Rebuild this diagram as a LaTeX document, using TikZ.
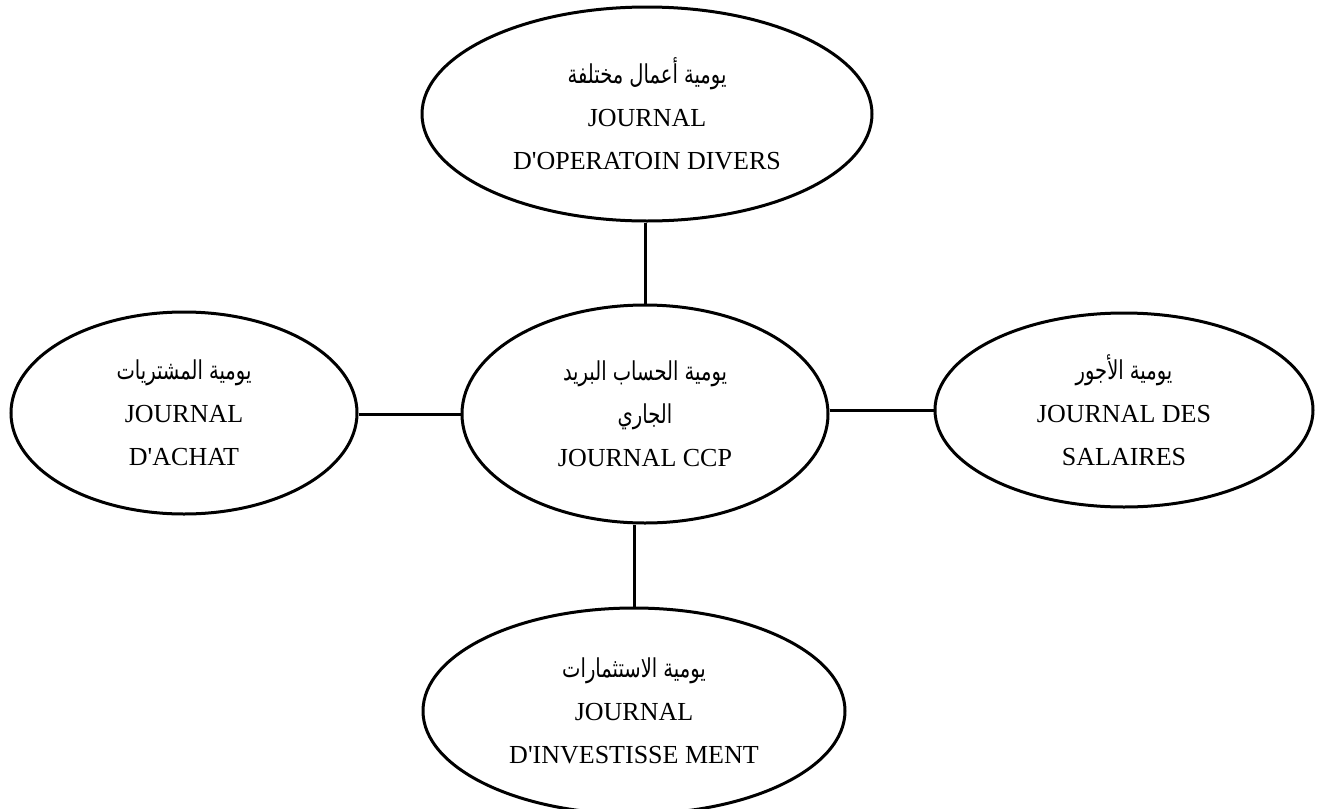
\documentclass[tikz,border=0pt]{standalone}
\usepackage{fontspec}
\setmainfont{Liberation Serif}[Ligatures=TeXOff]
\newfontfamily\arabicfont[Script=Arabic, FakeStretch=0.75]{DejaVu Sans}
\TeXXeTstate=1
\usetikzlibrary{shapes.geometric}
\newcommand{\ar}[1]{{\arabicfont\beginR #1\endR}}
\tikzset{
  jbox/.style={ellipse, draw, line width=1.5pt, inner sep=0pt, align=center,
    font=\fontsize{13}{21.5}\selectfont},
  link/.style={line width=1.5pt}
}
\begin{document}
\begin{tikzpicture}[x=0.5pt,y=-0.5pt]
\useasboundingbox (0,0) rectangle (1324,809);
\clip (0,0) rectangle (1324,809);
\node[jbox, minimum width=225pt, minimum height=107pt] (top) at (647,114)
  {\ar{يومية أعمال مختلفة}\\JOURNAL\\D'OPERATOIN DIVERS};
\node[jbox, minimum width=183pt, minimum height=109pt] (ccp) at (645,414)
  {\ar{يومية الحساب البريد}\\\ar{الجاري}\\JOURNAL CCP};
\node[jbox, minimum width=173pt, minimum height=101pt] (achat) at (184,413)
  {\ar{يومية المشتريات}\\JOURNAL\\D'ACHAT};
\node[jbox, minimum width=189pt, minimum height=97pt] (sal) at (1124,410)
  {\ar{يومية الأجور}\\JOURNAL DES\\SALAIRES};
\node[jbox, minimum width=211pt, minimum height=103pt] (inv) at (634,711)
  {\ar{يومية الاستثمارات}\\JOURNAL\\D'INVESTISSE MENT};
\draw[link] (ccp.north) -- (ccp.north |- top.south);
\draw[link] (ccp.west) -- (ccp.west -| achat.east);
\draw[link] (sal.west) -- (sal.west -| ccp.east);
\draw[link] (inv.north) -- (inv.north |- ccp.south);
\end{tikzpicture}
\end{document}
